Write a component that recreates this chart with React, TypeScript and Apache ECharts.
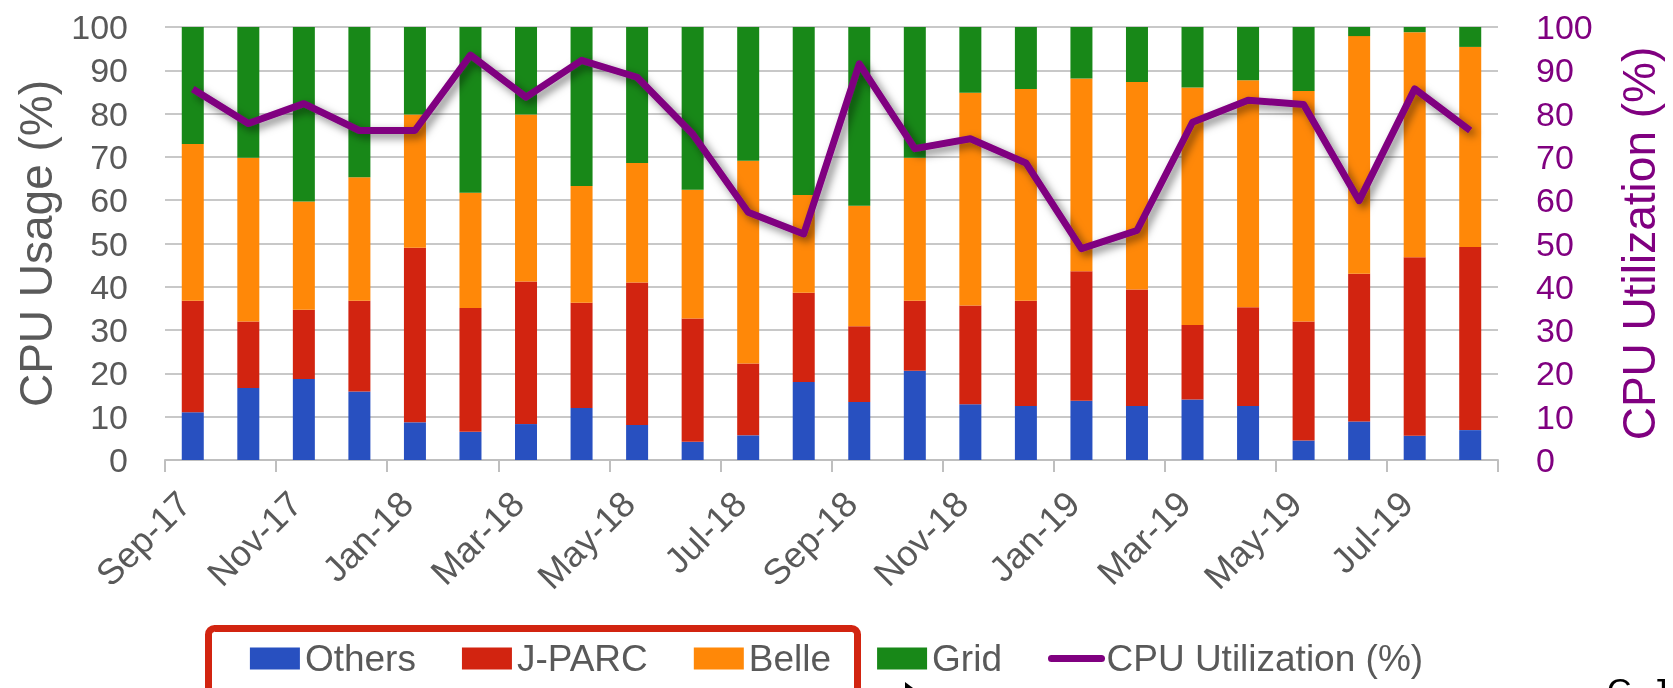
import React, { useEffect, useRef } from "react";
import * as echarts from "echarts";

const months = ["Sep-17","Oct-17","Nov-17","Dec-17","Jan-18","Feb-18","Mar-18","Apr-18","May-18","Jun-18","Jul-18","Aug-18","Sep-18","Oct-18","Nov-18","Dec-18","Jan-19","Feb-19","Mar-19","Apr-19","May-19","Jun-19","Jul-19","Aug-19"];
const others = [11.0,16.6,18.7,15.8,8.7,6.5,8.3,12.0,8.1,4.2,5.7,18.0,13.4,20.6,12.9,12.5,13.7,12.5,14.0,12.5,4.5,8.9,5.6,6.9];
const jparc = [25.8,15.4,16.0,21.0,40.3,28.6,32.9,24.3,32.9,28.5,16.6,20.6,17.5,16.2,22.8,24.3,29.9,26.9,17.2,22.8,27.5,34.1,41.2,42.3];
const belle = [36.2,37.8,25.0,28.5,30.8,26.6,38.6,27.0,27.6,29.7,46.8,22.6,27.8,33.0,49.1,48.9,44.5,47.9,54.8,52.4,53.2,54.9,52.0,46.2];
const gridUse = [27.0,30.2,40.3,34.7,20.2,38.3,20.2,36.7,31.4,37.6,30.9,38.8,41.3,30.2,15.2,14.3,11.9,12.7,14.0,12.3,14.8,2.1,1.2,4.6];
const cpuUtil = [85.7,77.7,82.3,76.1,76.1,93.5,83.8,92.3,88.4,75.3,57.2,52.2,91.5,71.9,74.2,68.6,48.8,53.0,78.0,83.1,82.1,59.9,85.7,76.1];

const FONT = "Liberation Sans";
const GRAY = "#595959";
const PURPLE = "#800080";
const COLORS = { others: "#2850C0", jparc: "#D22410", belle: "#FF8808", grid: "#188818" };

export default function App() {
  const ref = useRef<HTMLDivElement>(null);
  useEffect(() => {
    const chart = echarts.init(ref.current!, undefined, { renderer: "svg" });
    const bar = (name: string, data: number[], color: string) => ({
      name,
      type: "bar",
      stack: "total",
      data,
      barWidth: 22,
      itemStyle: { color },
      yAxisIndex: 0,
    });
    chart.setOption({
      animation: false,
      textStyle: { fontFamily: FONT },
      grid: { left: 165, right: 175, top: 27, bottom: 228, containLabel: false },
      legend: {
        left: "center",
        top: 640,
        padding: 0,
        itemGap: 46,
        itemWidth: 50,
        itemHeight: 22,
        textStyle: { fontSize: 37, color: GRAY, fontFamily: FONT },
        data: [
          { name: "Others", icon: "rect" },
          { name: "J-PARC", icon: "rect" },
          { name: "Belle", icon: "rect" },
          { name: "Grid", icon: "rect" },
          {
            name: "CPU Utilization (%)",
            itemStyle: { color: "rgba(0,0,0,0)", borderColor: "rgba(0,0,0,0)", borderWidth: 0 },
            lineStyle: { width: 7, color: PURPLE, cap: "round" },
          },
        ],
      },
      xAxis: {
        type: "category",
        data: months,
        axisLine: { lineStyle: { color: "#BFBFBF", width: 2 } },
        axisTick: { show: true, interval: 1, length: 12, lineStyle: { color: "#BFBFBF", width: 2 } },
        axisLabel: {
          interval: 1,
          rotate: 45,
          fontSize: 36,
          color: GRAY,
          fontFamily: FONT,
          margin: 29,
          padding: [0, 12, 0, 0],
        },
      },
      yAxis: [
        {
          type: "value",
          min: 0,
          max: 100,
          interval: 10,
          name: "CPU Usage (%)",
          nameLocation: "middle",
          nameGap: 106,
          nameTextStyle: { fontSize: 46, color: GRAY, fontFamily: FONT },
          axisLine: { show: false },
          axisTick: { show: false },
          axisLabel: { fontSize: 34, color: GRAY, margin: 37, fontFamily: FONT },
          splitLine: { lineStyle: { color: "#C8C8C8", width: 2 } },
        },
        {
          type: "value",
          min: 0,
          max: 100,
          interval: 10,
          position: "right",
          name: "CPU Utilization (%)",
          nameLocation: "middle",
          nameGap: 118,
          nameTextStyle: { fontSize: 46, color: PURPLE, fontFamily: FONT },
          axisLine: { show: false },
          axisTick: { show: false },
          axisLabel: { fontSize: 34, color: PURPLE, margin: 38, fontFamily: FONT },
          splitLine: { show: false },
        },
      ],
      series: [
        bar("Others", others, COLORS.others),
        bar("J-PARC", jparc, COLORS.jparc),
        bar("Belle", belle, COLORS.belle),
        bar("Grid", gridUse, COLORS.grid),
        {
          name: "CPU Utilization (%)",
          type: "line",
          yAxisIndex: 1,
          data: cpuUtil,
          symbol: "none",
          z: 5,
          itemStyle: { color: PURPLE },
          lineStyle: {
            color: PURPLE,
            width: 7,
            join: "round",
            shadowColor: "rgba(0,0,0,0.5)",
            shadowBlur: 8,
            shadowOffsetX: 4,
            shadowOffsetY: 4,
          },
        },
      ],
      graphic: [
        {
          type: "rect",
          shape: { x: 208.5, y: 628.5, width: 649, height: 90, r: 6 },
          style: { fill: "none", stroke: "#D22410", lineWidth: 7 },
          z: 10,
        },
        {
          type: "polygon",
          shape: { points: [[905, 682], [913, 688], [905, 688]] },
          style: { fill: "#000" },
        },
        {
          type: "text",
          x: 1607,
          y: 690,
          style: { text: "C. J", fontSize: 34, fill: "#000", fontFamily: FONT, verticalAlign: "middle" },
        },
      ],
    });
    return () => chart.dispose();
  }, []);
  return <div ref={ref} style={{ position: "fixed", left: 0, top: 0, width: 1673, height: 688 }} />;
}
